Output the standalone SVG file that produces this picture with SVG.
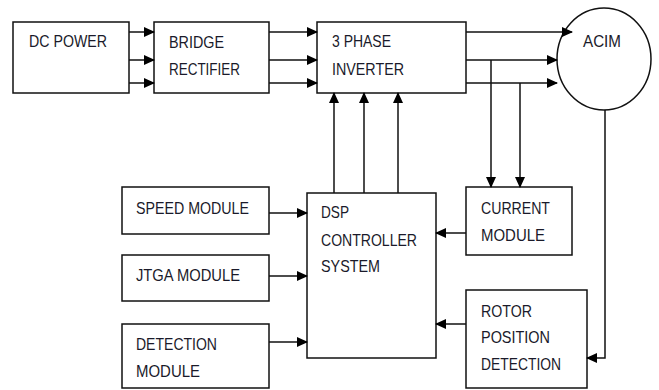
<svg xmlns="http://www.w3.org/2000/svg" width="659" height="390" viewBox="0 0 659 390">
<defs>
<marker id="ah" markerUnits="userSpaceOnUse" markerWidth="11" markerHeight="10" refX="10" refY="5" orient="auto">
<path d="M0,0 L11,5 L0,10 Z" fill="#000"/>
</marker>
<style>
.box{fill:#fff;stroke:#111;stroke-width:1.5}
.t{font-family:"Liberation Sans",Arial,sans-serif;font-size:16.5px;fill:#1a1a2a}
.c{fill:none;stroke:#111;stroke-width:1.5;marker-end:url(#ah)}
.l{fill:none;stroke:#111;stroke-width:1.5}
</style>
</defs>
<rect width="659" height="390" fill="#fff"/>
<g id="dc-power"><rect class="box" x="13" y="22" width="116" height="71"/><text class="t" x="29" y="47" textLength="78" lengthAdjust="spacingAndGlyphs">DC POWER</text></g>
<g id="bridge-rectifier"><rect class="box" x="154" y="22" width="115" height="71"/><text class="t" x="169" y="48" textLength="55" lengthAdjust="spacingAndGlyphs">BRIDGE</text><text class="t" x="169" y="75" textLength="71" lengthAdjust="spacingAndGlyphs">RECTIFIER</text></g>
<g id="inverter"><rect class="box" x="317" y="22" width="149" height="71"/><text class="t" x="332" y="47" textLength="59" lengthAdjust="spacingAndGlyphs">3 PHASE</text><text class="t" x="332" y="75" textLength="72" lengthAdjust="spacingAndGlyphs">INVERTER</text></g>
<g id="acim"><ellipse class="box" cx="604" cy="59" rx="47" ry="51"/><text class="t" x="583" y="47" textLength="38" lengthAdjust="spacingAndGlyphs">ACIM</text></g>
<g id="speed-module"><rect class="box" x="122" y="187" width="147" height="47"/><text class="t" x="136" y="214" textLength="113" lengthAdjust="spacingAndGlyphs">SPEED MODULE</text></g>
<g id="jtga-module"><rect class="box" x="122" y="255" width="147" height="46"/><text class="t" x="136" y="281" textLength="104" lengthAdjust="spacingAndGlyphs">JTGA MODULE</text></g>
<g id="detection-module"><rect class="box" x="122" y="324" width="147" height="64"/><text class="t" x="136" y="350" textLength="81" lengthAdjust="spacingAndGlyphs">DETECTION</text><text class="t" x="136" y="377" textLength="64" lengthAdjust="spacingAndGlyphs">MODULE</text></g>
<g id="dsp"><rect class="box" x="307" y="193" width="129" height="165"/><text class="t" x="321" y="218" textLength="28" lengthAdjust="spacingAndGlyphs">DSP</text><text class="t" x="321" y="246" textLength="96" lengthAdjust="spacingAndGlyphs">CONTROLLER</text><text class="t" x="321" y="272" textLength="59" lengthAdjust="spacingAndGlyphs">SYSTEM</text></g>
<g id="current-module"><rect class="box" x="466" y="187" width="106" height="68"/><text class="t" x="481" y="214" textLength="69" lengthAdjust="spacingAndGlyphs">CURRENT</text><text class="t" x="481" y="241" textLength="64" lengthAdjust="spacingAndGlyphs">MODULE</text></g>
<g id="rotor-position"><rect class="box" x="466" y="290" width="121" height="98"/><text class="t" x="481" y="317" textLength="51" lengthAdjust="spacingAndGlyphs">ROTOR</text><text class="t" x="481" y="343" textLength="69" lengthAdjust="spacingAndGlyphs">POSITION</text><text class="t" x="481" y="370" textLength="80" lengthAdjust="spacingAndGlyphs">DETECTION</text></g>
<g id="connectors">
<path class="c" d="M129,32 H154"/>
<path class="c" d="M129,60 H154"/>
<path class="c" d="M129,83 H154"/>
<path class="c" d="M269,32 H317"/>
<path class="c" d="M269,60 H317"/>
<path class="c" d="M269,83 H317"/>
<path class="c" d="M466,32 H572"/>
<path class="c" d="M466,60 H557"/>
<path class="c" d="M466,83 H557"/>
<path class="c" d="M491,60 V187"/>
<path class="c" d="M520,83 V187"/>
<path class="c" d="M334,193 V93"/>
<path class="c" d="M364,193 V93"/>
<path class="c" d="M398,193 V93"/>
<path class="c" d="M269,213 H307"/>
<path class="c" d="M269,276 H307"/>
<path class="c" d="M269,342 H307"/>
<path class="c" d="M466,233 H436"/>
<path class="c" d="M466,324 H436"/>
<path class="c" d="M605,110 V358 H587"/>
</g>
</svg>
